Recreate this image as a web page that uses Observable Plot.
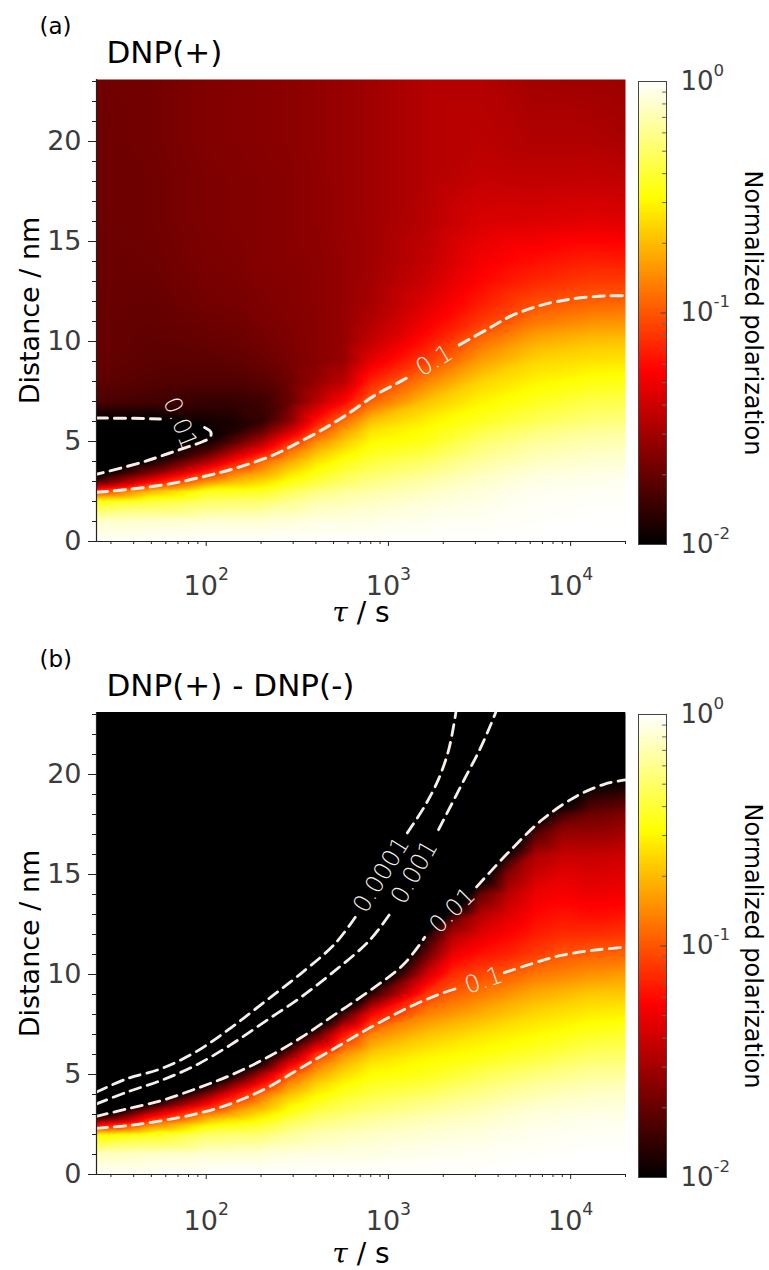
<!DOCTYPE html>
<html><head><meta charset="utf-8">
<script src="https://cdn.jsdelivr.net/npm/d3@7"></script>
<script src="https://cdn.jsdelivr.net/npm/@observablehq/plot@0.6"></script>
<style>
html,body{margin:0;padding:0;background:#fff;}
#page{position:relative;width:769px;height:1270px;overflow:hidden;background:#fff;}
</style></head>
<body><div id="page"></div>
<script>
// ---------------- DATA ----------------
// grid columns: relaxation delay tau (s); grid rows: distance (nm)
const tau = [25, 50, 100, 141, 200, 283, 400, 566, 800, 1600, 3200, 6400, 12800, 20000];
const distance = [0, 1, 2, 2.5, 3, 3.5, 4, 4.5, 5, 5.5, 6, 7, 8, 9, 10, 11, 12, 13, 14, 16, 18, 20, 23.1];

// log10(normalized polarization), one row per tau column, values along distance
const logPolPlus = [
  [-0.01,-0.10,-0.46,-1.06,-1.78,-2.12,-2.2,-2.28,-2.28,-2.18,-2.04,-1.77,-1.72,-1.70,-1.69,-1.69,-1.69,-1.69,-1.69,-1.68,-1.68,-1.68,-1.67],
  [-0.01,-0.09,-0.38,-0.70,-1.25,-1.67,-1.95,-2.1,-2.15,-2.12,-2.03,-1.80,-1.75,-1.73,-1.72,-1.71,-1.70,-1.69,-1.68,-1.67,-1.67,-1.66,-1.66],
  [0,-0.08,-0.30,-0.45,-0.84,-1.17,-1.5,-1.78,-1.96,-2.02,-1.95,-1.84,-1.76,-1.73,-1.70,-1.68,-1.66,-1.65,-1.64,-1.63,-1.63,-1.62,-1.62],
  [0,-0.08,-0.29,-0.44,-0.70,-0.93,-1.22,-1.5,-1.75,-1.9,-1.92,-1.84,-1.76,-1.72,-1.69,-1.67,-1.65,-1.64,-1.63,-1.62,-1.62,-1.61,-1.61],
  [0,-0.08,-0.28,-0.43,-0.62,-0.8,-0.95,-1.25,-1.5,-1.7,-1.85,-1.82,-1.74,-1.69,-1.66,-1.64,-1.63,-1.62,-1.61,-1.61,-1.61,-1.60,-1.60],
  [0,-0.07,-0.22,-0.33,-0.48,-0.62,-0.76,-0.93,-1.15,-1.4,-1.6,-1.7,-1.68,-1.65,-1.63,-1.62,-1.61,-1.61,-1.6,-1.6,-1.6,-1.59,-1.59],
  [0,-0.05,-0.16,-0.25,-0.38,-0.48,-0.58,-0.70,-0.85,-1.03,-1.2,-1.47,-1.57,-1.6,-1.6,-1.6,-1.59,-1.59,-1.59,-1.58,-1.58,-1.57,-1.57],
  [0,-0.05,-0.14,-0.2,-0.3,-0.38,-0.47,-0.56,-0.66,-0.78,-0.93,-1.25,-1.45,-1.55,-1.56,-1.56,-1.56,-1.56,-1.56,-1.55,-1.55,-1.55,-1.55],
  [0,-0.05,-0.12,-0.17,-0.24,-0.31,-0.38,-0.45,-0.51,-0.58,-0.68,-0.97,-1.15,-1.32,-1.43,-1.48,-1.51,-1.52,-1.53,-1.53,-1.53,-1.53,-1.53],
  [0,-0.03,-0.08,-0.12,-0.17,-0.23,-0.3,-0.38,-0.45,-0.49,-0.54,-0.68,-0.87,-1.07,-1.2,-1.29,-1.35,-1.4,-1.43,-1.46,-1.47,-1.47,-1.47],
  [0,-0.02,-0.05,-0.07,-0.1,-0.14,-0.19,-0.24,-0.29,-0.36,-0.43,-0.53,-0.63,-0.78,-0.93,-1.09,-1.18,-1.24,-1.28,-1.36,-1.42,-1.45,-1.47],
  [0,-0.01,-0.02,-0.03,-0.05,-0.08,-0.12,-0.16,-0.2,-0.26,-0.33,-0.44,-0.53,-0.62,-0.74,-0.9,-1.03,-1.14,-1.21,-1.35,-1.43,-1.48,-1.52],
  [0,0,-0.01,-0.02,-0.04,-0.06,-0.09,-0.12,-0.16,-0.2,-0.26,-0.36,-0.47,-0.58,-0.68,-0.83,-0.97,-1.08,-1.16,-1.33,-1.42,-1.48,-1.53],
  [0,0,-0.01,-0.02,-0.03,-0.05,-0.08,-0.11,-0.15,-0.19,-0.25,-0.35,-0.46,-0.57,-0.67,-0.82,-0.96,-1.08,-1.17,-1.34,-1.43,-1.5,-1.54]
];
const logPolDiff = [
  [-0.01,-0.12,-0.55,-1.3,-2.1,-2.6,-3,-3,-3,-3,-3,-3,-3,-3,-3,-3,-3,-3,-3,-3,-3,-3,-3],
  [-0.01,-0.1,-0.45,-0.88,-1.35,-1.9,-2.4,-2.8,-3,-3,-3,-3,-3,-3,-3,-3,-3,-3,-3,-3,-3,-3,-3],
  [0,-0.08,-0.3,-0.55,-0.87,-1.25,-1.62,-2.02,-2.4,-2.8,-3,-3,-3,-3,-3,-3,-3,-3,-3,-3,-3,-3,-3],
  [0,-0.08,-0.28,-0.47,-0.73,-0.97,-1.24,-1.6,-1.98,-2.35,-2.7,-3,-3,-3,-3,-3,-3,-3,-3,-3,-3,-3,-3],
  [0,-0.08,-0.27,-0.41,-0.59,-0.77,-0.93,-1.2,-1.5,-1.9,-2.2,-2.6,-3,-3,-3,-3,-3,-3,-3,-3,-3,-3,-3],
  [0,-0.06,-0.2,-0.3,-0.43,-0.55,-0.68,-0.84,-1.02,-1.3,-1.65,-2.3,-2.8,-3,-3,-3,-3,-3,-3,-3,-3,-3,-3],
  [0,-0.05,-0.15,-0.23,-0.33,-0.43,-0.53,-0.63,-0.76,-0.91,-1.1,-1.75,-2.45,-2.9,-3,-3,-3,-3,-3,-3,-3,-3,-3],
  [0,-0.05,-0.13,-0.19,-0.27,-0.35,-0.43,-0.51,-0.6,-0.7,-0.82,-1.18,-1.8,-2.5,-2.9,-3,-3,-3,-3,-3,-3,-3,-3],
  [0,-0.05,-0.11,-0.16,-0.23,-0.3,-0.37,-0.43,-0.5,-0.56,-0.65,-0.86,-1.26,-1.85,-2.4,-2.8,-3,-3,-3,-3,-3,-3,-3],
  [0,-0.03,-0.08,-0.12,-0.17,-0.23,-0.3,-0.38,-0.45,-0.49,-0.54,-0.68,-0.87,-1.1,-1.4,-1.7,-1.95,-2.4,-2.7,-3,-3,-3,-3],
  [0,-0.02,-0.06,-0.09,-0.12,-0.17,-0.22,-0.28,-0.34,-0.41,-0.48,-0.58,-0.73,-0.89,-1.04,-1.2,-1.34,-1.47,-1.7,-2.4,-2.8,-2.9,-3],
  [0,-0.01,-0.03,-0.05,-0.07,-0.1,-0.155,-0.2,-0.26,-0.33,-0.4,-0.51,-0.61,-0.74,-0.9,-1.07,-1.17,-1.24,-1.3,-1.5,-2.1,-2.6,-2.8],
  [0,0,-0.02,-0.03,-0.05,-0.08,-0.11,-0.15,-0.2,-0.25,-0.31,-0.43,-0.55,-0.66,-0.82,-0.97,-1.12,-1.22,-1.3,-1.42,-1.68,-2.15,-2.6],
  [0,0,-0.02,-0.03,-0.05,-0.07,-0.1,-0.14,-0.19,-0.24,-0.3,-0.41,-0.53,-0.65,-0.79,-0.95,-1.1,-1.2,-1.28,-1.4,-1.62,-2.06,-2.5]
];
// extra readings of panel (b) along its steep red-to-black band: [tau, distance, log10 P]
const extraDiff = [
  [2263,9,-0.97],[2263,10,-1.12],[2263,11,-1.3],[2263,12,-1.48],[2263,12.5,-1.62],[2263,13,-1.85],[2263,13.5,-2.15],[2263,14,-2.4],[2263,16,-2.9],
  [3200,15,-2.15],
  [4525,10,-0.98],[4525,11,-1.15],[4525,12,-1.25],[4525,13,-1.35],[4525,14,-1.45],[4525,15,-1.6],[4525,15.5,-1.75],[4525,16,-1.95],[4525,17,-2.3],[4525,18,-2.6],
  [6400,17,-1.75],
  [9050,11,-1.0],[9050,12,-1.12],[9050,13,-1.2],[9050,14,-1.27],[9050,15,-1.33],[9050,16,-1.42],[9050,17,-1.55],[9050,17.5,-1.65],[9050,18,-1.8],[9050,18.5,-2.02],[9050,19,-2.3],[9050,20,-2.5],
  [12800,19,-1.9]
];

// contour lines [tau, distance], split where the inline label sits
const plusC0p1 = [
  [[25,2.46],[36.2,2.59],[63.7,2.89],[98.4,3.26],[145.5,3.67],[225,4.26],[318,4.93],[451,5.68],[611,6.43],[829,7.27],[1174,8.02],[1300,8.25]],
  [[2450,9.83],[3484,10.61],[4721,11.28],[6683,11.78],[10320,12.14],[15950,12.28],[20000,12.28]]
];
const plusC0p01 = [
  [[25,6.17],[40,6.16],[56,6.12]],
  [[98,5.7],[106,5.47],[105,5.2],[96,5.0],[80,4.74],[62,4.4],[44,3.95],[25,3.36]]
];
const diffC0p1 = [
  [[25,2.31],[36.7,2.44],[56.9,2.69],[88,3.03],[136,3.53],[211,4.29],[327,5.3],[507,6.31],[785,7.32],[1216,8.24],[1884,9.0],[2450,9.34]],
  [[4325,10.09],[5620,10.43],[8710,10.94],[13490,11.22],[20000,11.36]]
];
const diffC0p01 = [
  [[25,2.91],[36.7,3.28],[56.9,3.70],[88,4.29],[136,4.96],[211,5.80],[327,6.81],[507,7.99],[785,9.17],[1216,10.52],[1582,11.86]],
  [[3047,14.38],[4519,16.07],[6998,17.75],[10840,18.93],[15380,19.52],[20000,19.73]]
];
const diffC0p001 = [
  [[25,3.53],[36.7,4.12],[56.9,4.71],[88,5.47],[136,6.48],[211,7.66],[327,8.83],[507,10.18],[785,11.69],[1021,13.04]],
  [[1884,17.24],[2244,18.59],[2673,19.94],[3184,21.28],[3633,22.46],[3880,23.1]]
];
const diffC0p0001 = [
  [[25,4.12],[36.7,4.79],[56.9,5.30],[88,6.14],[136,7.32],[211,8.66],[327,10.01],[507,11.52],[659,12.87]],
  [[1270,17.08],[1582,18.42],[1884,19.77],[2148,21.28],[2345,23.1]]
];

// contour labels
const plusLabels = [
  {tau: 72, dist: 5.92, text: "0.01", angle: 68},
  {tau: 1785, dist: 9.04, text: "0.1", angle: -31}
];
const diffLabels = [
  {tau: 915, dist: 14.98, text: "0.0001", angle: -58},
  {tau: 1390, dist: 15.12, text: "0.001", angle: -60},
  {tau: 2244, dist: 13.2, text: "0.01", angle: -45},
  {tau: 3330, dist: 9.7, text: "0.1", angle: -19}
];

// ticks
const xMajor = [100, 1000, 10000];
const xMinor = [30,40,50,60,70,80,90,200,300,400,500,600,700,800,900,2000,3000,4000,5000,6000,7000,8000,9000,20000];
const yMajor = [0, 5, 10, 15, 20];
const yMinor = [1,2,3,4,6,7,8,9,11,12,13,14,16,17,18,19,21,22,23];
const cbarMajor = [1, 0.1, 0.01];
const cbarMinor = [0.02,0.03,0.04,0.05,0.06,0.07,0.08,0.09,0.2,0.3,0.4,0.5,0.6,0.7,0.8,0.9];

// ---------------- RENDERING ----------------
const hot = t => {
  t = Math.max(0, Math.min(1, t));
  const r = Math.min(1, t / 0.375);
  const g = Math.max(0, Math.min(1, (t - 0.375) / 0.375));
  const b = Math.max(0, Math.min(1, (t - 0.75) / 0.25));
  return `rgb(${Math.round(r * 255)},${Math.round(g * 255)},${Math.round(b * 255)})`;
};
const colorOpts = () => ({type: "linear", domain: [-2, 0], interpolate: hot, clamp: true});
const baseStyle = {fontFamily: "'DejaVu Sans', sans-serif", fontSize: "27px", background: "transparent", overflow: "visible", color: "#000"};
const tickGray = "#3c3c3c";
const lineColor = "#f7efe9";

const page = document.getElementById("page");
function place(el, left, top) {
  el.style.position = "absolute";
  el.style.left = left + "px";
  el.style.top = top + "px";
  page.appendChild(el);
}

const NS = "http://www.w3.org/2000/svg";
function fixTexts(svg) {
  svg.querySelectorAll("text").forEach(t => {
    const m = /^10\^(-?\d+)$/.exec(t.textContent);
    if (m) {
      t.textContent = "10";
      const s = document.createElementNS(NS, "tspan");
      s.setAttribute("dy", "-0.85em");
      s.setAttribute("font-size", "0.64em");
      s.textContent = m[1];
      t.appendChild(s);
    } else if (t.textContent === "τ / s") {
      t.textContent = "";
      const a = document.createElementNS(NS, "tspan");
      a.setAttribute("font-family", "'DejaVu Serif', serif");
      a.setAttribute("font-style", "italic");
      a.textContent = "τ";
      const b = document.createElementNS(NS, "tspan");
      b.textContent = " / s";
      t.appendChild(a); t.appendChild(b);
    }
  });
}

function panel({grid, extra, contours, labels, title, tag, top, lw, maskContour, tickPad, tauDy}) {
  const cells = tau.flatMap((t, i) => distance.map((d, j) => ({tau: t, dist: d, v: grid[i][j]})))
    .concat(extra.map(([t, d, v]) => ({tau: t, dist: d, v})));
  const lines = contours.flatMap((segs, k) => segs.flatMap((seg, s) => seg.map(([t, d]) => ({tau: t, dist: d, id: k + "-" + s}))));
  // region above the 0.01 contour painted with the colormap's floor colour
  const mask = maskContour ? maskContour.flat().map(([t, d]) => ({tau: t, dist: d})) : [];
  const main = Plot.plot({
    width: 769, height: 640,
    marginLeft: 96, marginRight: 144, marginTop: 79, marginBottom: 99,
    style: baseStyle,
    x: {type: "log", domain: [25, 20000], label: null},
    y: {domain: [0, 23.1], label: null},
    color: colorOpts(),
    marks: [
      Plot.raster(cells, {x: "tau", y: "dist", fill: "v", interpolate: "barycentric"}),
      Plot.areaY(mask, {x: "tau", y1: "dist", y2: 23.1, curve: "catmull-rom", fill: hot(0)}),
      Plot.line(lines, {x: "tau", y: "dist", z: "id", curve: "catmull-rom", stroke: lineColor, strokeWidth: lw, strokeDasharray: "11,7"}),
      Plot.text(labels, {x: "tau", y: "dist", text: "text", rotate: "angle", fill: "#f6f0ea", fontSize: 24, fontWeight: 200}),
      Plot.ruleX([25], {stroke: "#222", strokeWidth: 1.2}),
      Plot.ruleY([0], {stroke: "#222", strokeWidth: 1.2}),
      Plot.axisX(xMinor, {tickSize: 3, tickFormat: () => "", label: null, stroke: "#222"}),
      Plot.axisX(xMajor, {tickSize: 5, tickPadding: tickPad, label: null, stroke: "#222", fill: tickGray, tickFormat: d => "10^" + Math.round(Math.log10(d))}),
      Plot.axisY(yMinor, {tickSize: 4, tickFormat: () => "", label: null, stroke: "#222"}),
      Plot.axisY(yMajor, {tickSize: 8, tickPadding: 7, label: null, stroke: "#222", fill: tickGray}),
      Plot.text([title], {text: d => d, frameAnchor: "top-left", dx: 10, dy: -26, fontSize: 31, textAnchor: "start", lineAnchor: "middle"}),
      Plot.text([tag], {text: d => d, frameAnchor: "top-left", dx: -57, dy: -53, fontSize: 23, textAnchor: "start", lineAnchor: "middle"}),
      Plot.text(["Distance / nm"], {text: d => d, frameAnchor: "left", dx: -66, rotate: -90, fontSize: 27, textAnchor: "middle", lineAnchor: "middle"}),
      Plot.text(["τ / s"], {text: d => d, frameAnchor: "bottom", dy: tauDy, fontSize: 28, textAnchor: "middle", lineAnchor: "middle"})
    ]
  });
  fixTexts(main);
  place(main, 0, top);

  const cbarCells = cbarMajor.flatMap(v => [{x: 0, y: Math.log10(v)}, {x: 1, y: Math.log10(v)}]);
  const cbar = Plot.plot({
    width: 169, height: 640,
    marginLeft: 38, marginRight: 103, marginTop: 81, marginBottom: 96,
    style: baseStyle,
    x: {domain: [0, 1], axis: null},
    y: {domain: [-2, 0], axis: null},
    color: colorOpts(),
    marks: [
      Plot.raster(cbarCells, {x: "x", y: "y", fill: "y", interpolate: "barycentric"}),
      Plot.ruleY(cbarMinor, {y: d => Math.log10(d), x1: 0.86, x2: 1, stroke: "#666", strokeWidth: 1}),
      Plot.ruleY([0.1], {y: d => Math.log10(d), x1: 0.8, x2: 1, stroke: "#444", strokeWidth: 1}),
      Plot.frame({stroke: "#444", strokeWidth: 1}),
      Plot.text(cbarMajor, {x: 1, y: d => Math.log10(d), dx: 14, textAnchor: "start", lineAnchor: "middle", fill: tickGray, fontSize: 26, text: d => "10^" + Math.round(Math.log10(d))}),
      Plot.text(["Normalized polarization"], {text: d => d, frameAnchor: "right", dx: 86, rotate: 90, fontSize: 24, textAnchor: "middle", lineAnchor: "middle"})
    ]
  });
  fixTexts(cbar);
  place(cbar, 600, top);
}

panel({grid: logPolPlus, extra: [], contours: [plusC0p1, plusC0p01], labels: plusLabels,
       title: "DNP(+)", tag: "(a)", top: 0, lw: 3, maskContour: null, tickPad: 29, tauDy: 72});
panel({grid: logPolDiff, extra: extraDiff, contours: [diffC0p1, diffC0p01, diffC0p001, diffC0p0001], labels: diffLabels,
       title: "DNP(+) - DNP(-)", tag: "(b)", top: 633, lw: 2.8, maskContour: diffC0p01, tickPad: 31, tauDy: 80});
</script>
</body></html>
